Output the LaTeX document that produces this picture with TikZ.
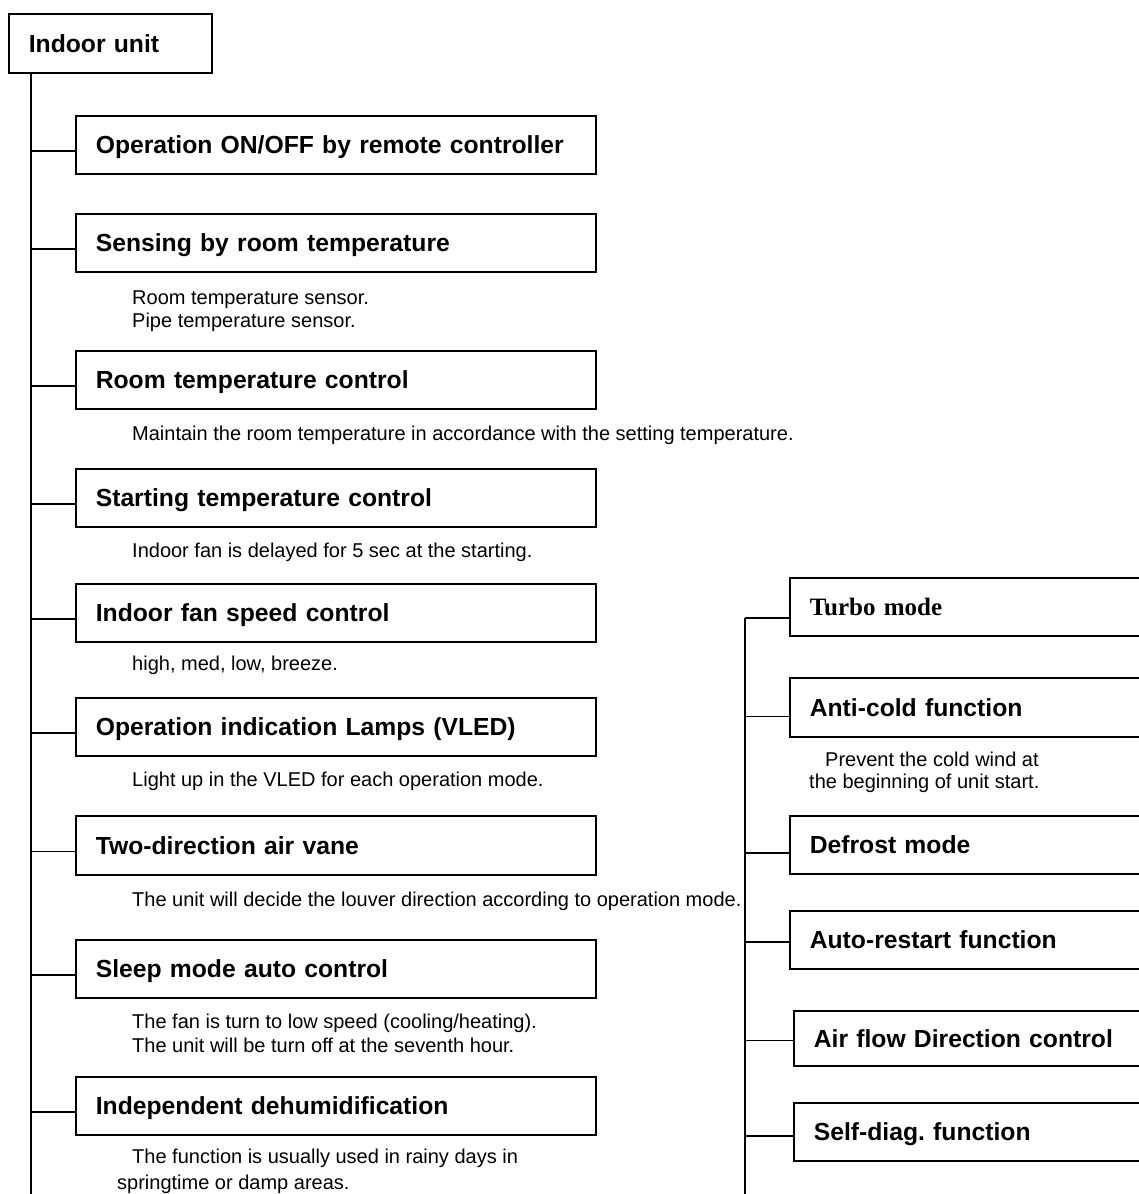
\documentclass[tikz,border=0pt]{standalone}
\usepackage{fontspec}
\setmainfont{Liberation Sans}
\newfontfamily\timesfont{Liberation Serif}
\frenchspacing
\tikzset{
  box/.style={draw, line width=1.6pt, anchor=north west, inner xsep=20pt, inner ysep=0pt,
    minimum height=58pt, text height=18pt, text depth=0pt, align=left,
    font=\bfseries\fontsize{24.7}{30}\selectfont},
  lbox/.style={box, text width=480pt},
  rbox/.style={box, text width=380pt},
  note/.style={anchor=base west, inner sep=0pt, font=\fontsize{20}{23}\selectfont},
  wire/.style={line width=1.6pt},
}
\begin{document}
\frenchspacing
\begin{tikzpicture}[x=1pt, y=-1pt]
\useasboundingbox (0,0) rectangle (1139,1194);
\clip (0,0) rectangle (1139,1194);
\fill[white] (0,0) rectangle (1139,1194);

% root
\node[box, text width=163pt, minimum height=59pt] (iu) at (8,13) {Indoor unit};
\coordinate (lt) at (31,1194);
\draw[wire] (iu.south -| lt) -- (lt);

% left column
\node[lbox] (b1) at (75,115) {Operation ON/OFF by remote controller};
\node[lbox] (b2) at (75,213) {Sensing by room temperature};
\node[lbox] (b3) at (75,350) {Room temperature control};
\node[lbox] (b4) at (75,468) {Starting temperature control};
\node[lbox] (b5) at (75,583) {Indoor fan speed control};
\node[lbox] (b6) at (75,697) {Operation indication Lamps (VLED)};
\node[lbox, minimum height=59pt] (b7) at (75,815) {Two-direction air vane};
\node[lbox] (b8) at (75,939) {Sleep mode auto control};
\node[lbox] (b9) at (75,1076) {Independent dehumidification};

\foreach \b in {b1,b2,b3,b4,b5,b6,b7,b8,b9}
  \draw[wire] ([yshift=-6pt]\b.west -| lt) -- ([yshift=-6pt]\b.west);

\node[note] (n2a) at (132,304) {Room temperature sensor.};
\node[note] (n2b) at (132,327) {Pipe temperature sensor.};
\node[note] (n3) at (132,440) {Maintain the room temperature in accordance with the setting temperature.};
\node[note] (n4) at (132,557) {Indoor fan is delayed for 5 sec at the starting.};
\node[note] (n5) at (132,670) {high, med, low, breeze.};
\node[note] (n6) at (132,786) {Light up in the VLED for each operation mode.};
\node[note] (n7) at (132,906) {The unit will decide the louver direction according to operation mode.};
\node[note] (n8a) at (132,1028) {The fan is turn to low speed (cooling/heating).};
\node[note] (n8b) at (132,1052) {The unit will be turn off at the seventh hour.};
\node[note] (n9a) at (132,1163) {The function is usually used in rainy days in};
\node[note] (n9b) at (117,1189) {springtime or damp areas.};

% right column
\node[rbox, font=\timesfont\bfseries\fontsize{25}{30}\selectfont] (r1) at (789,577) {Turbo mode};
\node[rbox, minimum height=59pt] (r2) at (789,677) {Anti-cold function};
\node[rbox] (r3) at (789,815) {Defrost mode};
\node[rbox] (r4) at (789,910) {Auto-restart function};
\node[rbox, minimum height=55pt] (r5) at (793,1010) {Air flow Direction control};
\node[rbox] (r6) at (793,1102) {Self-diag.\ function};

\coordinate (rt) at (745,1194);
\draw[wire] ([yshift=-11pt]r1.west -| rt) -- (rt);
\draw[wire] ([yshift=-11pt]r1.west -| rt) -- ([yshift=-11pt]r1.west);
\draw[wire] ([yshift=-9pt]r2.west -| rt) -- ([yshift=-9pt]r2.west);
\draw[wire] ([yshift=-8pt]r3.west -| rt) -- ([yshift=-8pt]r3.west);
\draw[wire] ([yshift=-2pt]r4.west -| rt) -- ([yshift=-2pt]r4.west);
\draw[wire] ([yshift=-2pt]r5.west -| rt) -- ([yshift=-2pt]r5.west);
\draw[wire] ([yshift=-4pt]r6.west -| rt) -- ([yshift=-4pt]r6.west);

\node[note] (m2a) at (825,766) {Prevent the cold wind at};
\node[note] (m2b) at (809,788) {the beginning of unit start.};
\end{tikzpicture}
\end{document}
